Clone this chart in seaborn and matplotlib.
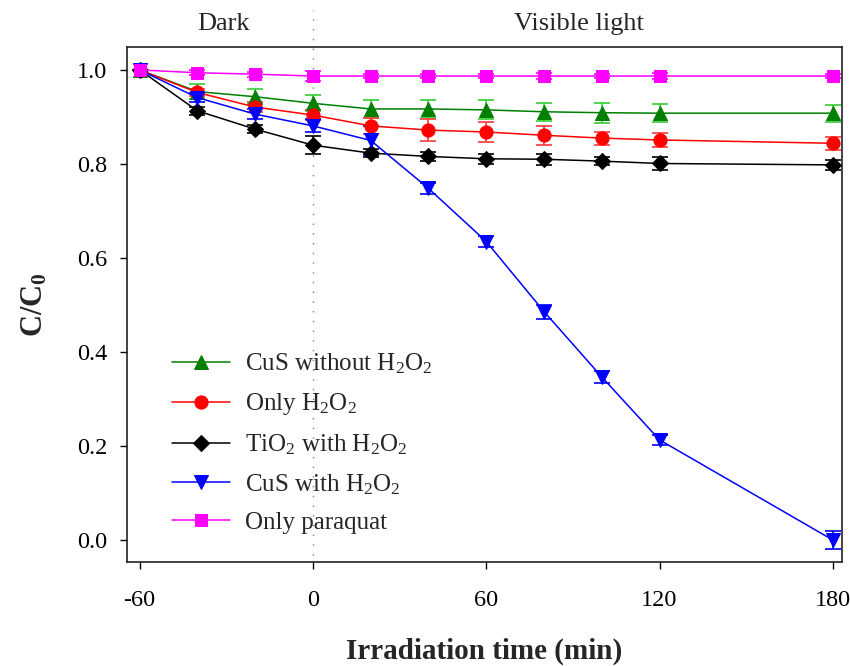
import matplotlib
matplotlib.use("Agg")
import matplotlib.pyplot as plt
import seaborn as sns
import pandas as pd

# Irradiation time (min); negative times are the dark adsorption stage
time_min = [-60, -40, -20, 0, 20, 40, 60, 80, 100, 120, 180]

cus_no_h2o2 = [1.000, 0.954, 0.943, 0.929, 0.917, 0.917, 0.915, 0.911, 0.909, 0.908, 0.908]
cus_no_h2o2_err = [0.000, 0.016, 0.016, 0.017, 0.020, 0.020, 0.020, 0.019, 0.021, 0.019, 0.018]

only_h2o2 = [1.000, 0.952, 0.921, 0.904, 0.881, 0.872, 0.868, 0.861, 0.855, 0.851, 0.844]
only_h2o2_err = [0.000, 0.008, 0.010, 0.011, 0.017, 0.024, 0.021, 0.020, 0.014, 0.015, 0.014]

tio2_h2o2 = [1.000, 0.913, 0.874, 0.840, 0.823, 0.816, 0.811, 0.810, 0.806, 0.801, 0.798]
tio2_h2o2_err = [0.000, 0.008, 0.008, 0.019, 0.008, 0.010, 0.011, 0.012, 0.008, 0.014, 0.010]

cus_h2o2 = [1.000, 0.941, 0.906, 0.881, 0.850, 0.748, 0.635, 0.486, 0.347, 0.213, 0.000]
cus_h2o2_err = [0.000, 0.010, 0.010, 0.014, 0.030, 0.011, 0.012, 0.015, 0.012, 0.010, 0.020]

only_paraquat = [1.000, 0.994, 0.991, 0.987, 0.987, 0.987, 0.987, 0.987, 0.987, 0.987, 0.987]
only_paraquat_err = [0.000, 0.005, 0.005, 0.010, 0.005, 0.005, 0.005, 0.006, 0.005, 0.006, 0.005]

x_ticks = [-60, 0, 60, 120, 180]
y_ticks = [0.0, 0.2, 0.4, 0.6, 0.8, 1.0]

series = [
    ("CuS without H$_2$O$_2$", cus_no_h2o2, cus_no_h2o2_err, "#007f00", "#33cc33", "^"),
    ("Only H$_2$O$_2$", only_h2o2, only_h2o2_err, "#ff0000", "#ff3a3a", "o"),
    ("TiO$_2$ with H$_2$O$_2$", tio2_h2o2, tio2_h2o2_err, "#000000", "#000000", "D"),
    ("CuS with H$_2$O$_2$", cus_h2o2, cus_h2o2_err, "#0000ff", "#0000ff", "v"),
    ("Only paraquat", only_paraquat, only_paraquat_err, "#ff00ff", "#ff00ff", "s"),
]

sns.set_style("ticks")
plt.rcParams["font.family"] = ["Liberation Serif", "DejaVu Serif"]
plt.rcParams["mathtext.fontset"] = "custom"
plt.rcParams["mathtext.rm"] = "Liberation Serif"
plt.rcParams["mathtext.it"] = "Liberation Serif:italic"
plt.rcParams["mathtext.bf"] = "Liberation Serif:bold"

fig = plt.figure(figsize=(8.5, 6.66), dpi=100)
ax = fig.add_axes([0.149, 0.156, 0.842, 0.774])

msizes = {"^": 9.5, "o": 9.5, "D": 8, "v": 9.5, "s": 9}
for label, vals, errs, color, ecolor, marker in series:
    df = pd.DataFrame({"t": time_min, "c": vals})
    ax.errorbar(time_min, vals, yerr=errs, fmt="none", ecolor=ecolor,
                elinewidth=1.2, capsize=5.5, capthick=1.2, zorder=2)
    sns.lineplot(data=df, x="t", y="c", ax=ax, color=color, marker=marker,
                 markersize=msizes[marker], markeredgecolor=color,
                 markerfacecolor=color, linewidth=1.1, label=label, zorder=3)

# boundary between the dark stage and the illuminated stage
ax.plot([0, 0], [0.014, 1.071], transform=ax.get_xaxis_transform(),
        color="#7f7f7f", linewidth=1.0, linestyle=(0, (1, 6)), clip_on=False,
        zorder=1)
ax.text(-31, 1.043, "Dark", transform=ax.get_xaxis_transform(),
        ha="center", va="center", fontsize=19)
ax.text(92, 1.043, "Visible light", transform=ax.get_xaxis_transform(),
        ha="center", va="center", fontsize=19)

ax.set_xlim(-64.5, 183.3)
ax.set_ylim(-0.047, 1.0496)
ax.set_xticks(x_ticks)
ax.set_xticklabels([str(v) for v in x_ticks])
ax.set_yticks(y_ticks)
ax.set_yticklabels([f"{v:.1f}" for v in y_ticks])
ax.tick_params(axis="both", direction="out", length=5, width=1.0,
               labelsize=17.5, colors="black")
ax.tick_params(axis="x", pad=15)
ax.tick_params(axis="y", pad=9)

for side in ["left", "right", "top", "bottom"]:
    ax.spines[side].set_visible(True)
    ax.spines[side].set_linewidth(1.2)
    ax.spines[side].set_color("#222222")

ax.set_xlabel("Irradiation time (min)", fontsize=21, fontweight="bold",
              labelpad=19)
ax.set_ylabel("C/C$_\\mathbf{0}$", fontsize=22, fontweight="bold", labelpad=20)

leg = ax.legend(loc="lower left", bbox_to_anchor=(0.05, 0.035), frameon=False,
                fontsize=18, handlelength=2.3, handletextpad=0.6,
                labelspacing=0.6, borderaxespad=0)

fig.savefig("out.png", dpi=100)
